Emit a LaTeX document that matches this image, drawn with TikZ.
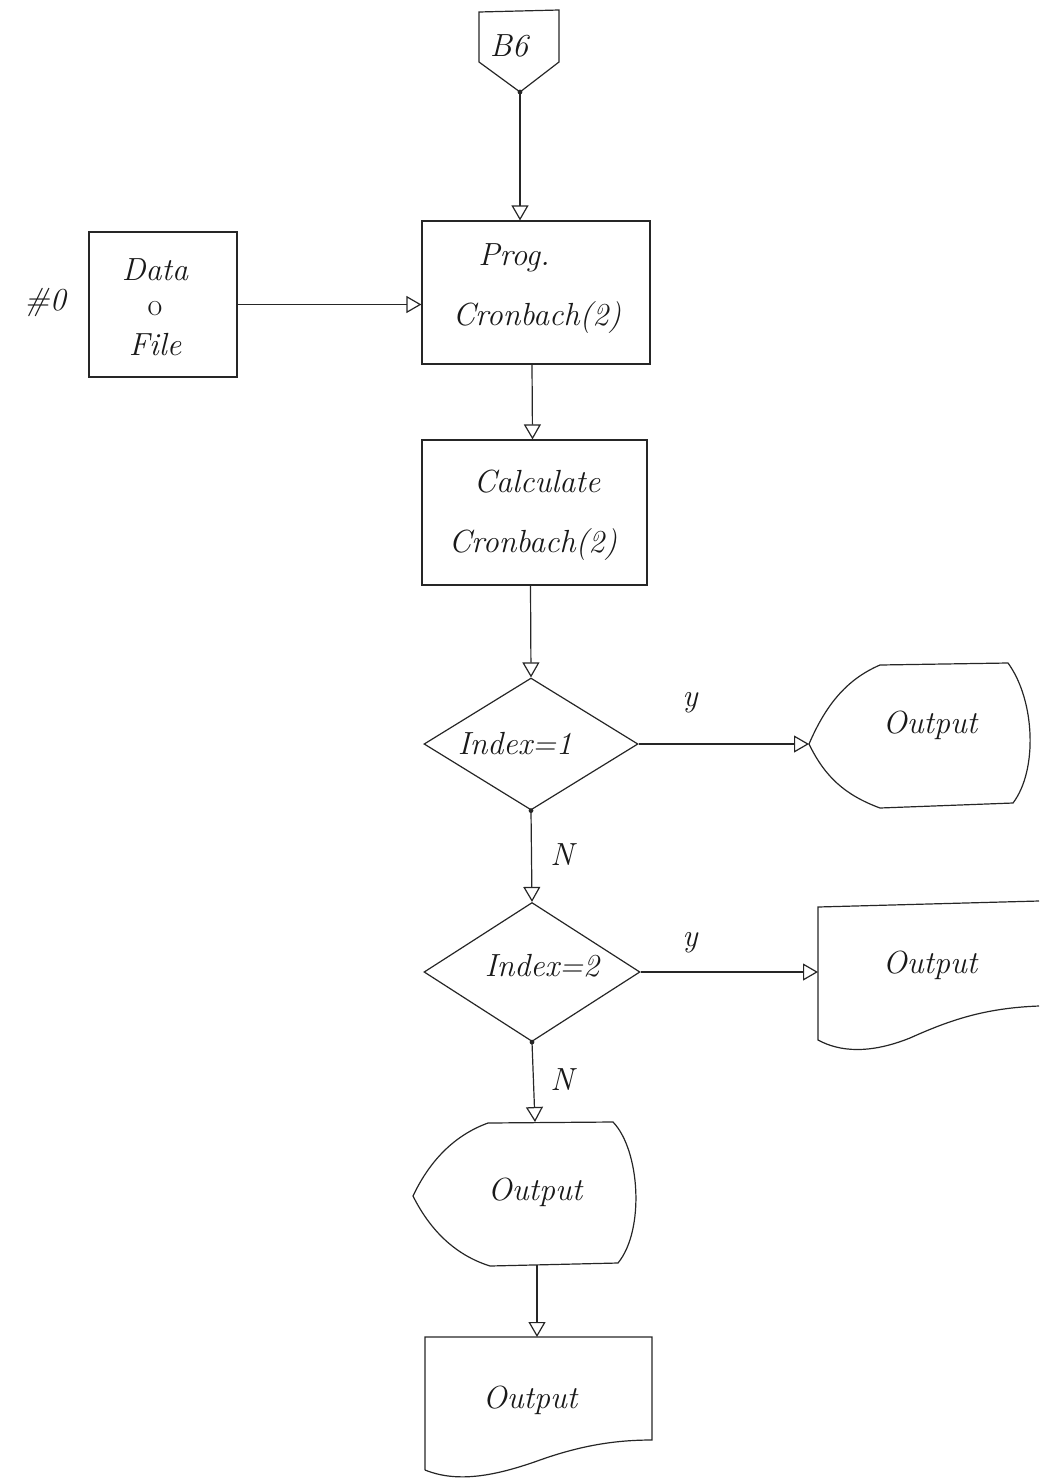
\documentclass[tikz,border=0pt]{standalone}
\usetikzlibrary{arrows.meta,shapes.geometric}

\begin{document}
\begin{tikzpicture}[x=0.5pt,y=-0.5pt,line width=0.6pt,
  ink/.style={draw=black!85},
  box/.style={ink,rectangle,inner sep=0pt},
  decision/.style={ink,diamond,inner sep=0pt},
  lbl/.style={font=\fontsize{16}{19}\selectfont\itshape,text=black!90},
  flow/.style={draw=black!85,-{Triangle[open,length=7.5pt,width=8.5pt]}},
  joint/.style={circle,fill=black!85,inner sep=0pt,minimum size=2.4pt}]

\useasboundingbox (0,0) rectangle (1039,1478);

% ---- off-page connector B6
\draw[ink] (479,12) -- (559,10) -- (559,62) -- (520,92) -- (479,62) -- cycle;
\coordinate (b6tip) at (520,92);
\node[lbl] (b6) at (509,46) {B6};
\node[joint] at (b6tip) {};

% ---- data file and program boxes
\node[box,minimum width=74pt,minimum height=72.5pt] (data) at (163,304.5) {};
\node[lbl] (datat1) at (155,270) {Data};
\node[lbl,font=\fontsize{16}{19}\selectfont\upshape] (datat2) at (155,309) {o};
\node[lbl] (datat3) at (155,345) {File};
\node[lbl] (fileno) at (45,302) {\#0};

\node[box,minimum width=114pt,minimum height=71.5pt] (prog) at (536,292.5) {};
\node[lbl] (progt1) at (514,258) {Prog.};
\node[lbl] (progt2) at (537,318) {Cronbach(2)};

\node[box,minimum width=112.5pt,minimum height=72.5pt] (calc) at (534.5,512.5) {};
\node[lbl] (calct1) at (537,482) {Calculate};
\node[lbl] (calct2) at (533,545) {Cronbach(2)};

% ---- decisions
\node[decision,minimum width=107pt,minimum height=66pt] (d1) at (531,744) {};
\node[lbl] (d1t) at (515,744) {Index=1};
\node[decision,minimum width=108pt,minimum height=69.5pt] (d2) at (532,972) {};
\node[lbl] (d2t) at (542,966) {Index=2};
\node[joint] at (d1.south) {};
\node[joint] at (d2.south) {};

% ---- display output (right of first decision)
\draw[ink] (809,744) .. controls (825,707) and (845,680) .. (880,665)
  -- (1008,663) .. controls (1035,700) and (1038,770) .. (1013,803)
  -- (880,808) .. controls (845,795) and (825,777) .. (809,744) -- cycle;
\coordinate (out1in) at (809,744);
\node[lbl] (out1) at (930,725) {Output};

% ---- document output (right of second decision)
\draw[ink] (1039,901) -- (818,907) -- (818,1040)
  .. controls (840,1052) and (870,1054) .. (910,1038)
  .. controls (950,1020) and (985,1008) .. (1039,1006);
\coordinate (doc2in) at (818,972);
\node[lbl] (out2) at (930,965) {Output};

% ---- display output below
\draw[ink] (413,1196) .. controls (430,1160) and (455,1135) .. (488,1123)
  -- (613,1122) .. controls (640,1150) and (645,1230) .. (618,1263)
  -- (490,1266) .. controls (455,1255) and (430,1230) .. (413,1196) -- cycle;
\coordinate (out3top) at (535,1122);
\coordinate (out3bot) at (537,1265);
\node[lbl] (out3) at (535,1192) {Output};

% ---- final document output
\draw[ink] (425,1470) -- (425,1337) -- (652,1337) -- (652,1440)
  .. controls (620,1440) and (585,1444) .. (540,1460)
  .. controls (490,1478) and (455,1482) .. (425,1470);
\coordinate (doc4top) at (537,1337);
\node[lbl] (out4) at (530,1400) {Output};

% ---- connectors
\draw[flow] (b6tip) -- (b6tip |- prog.north);
\draw[flow] (data.east) -- (data.east -| prog.west);
\draw[flow] ([xshift=-2pt]prog.south) -- ([xshift=-1pt]calc.north);
\draw[flow] ([xshift=-2pt]calc.south) -- (d1.north);
\draw[flow] (d1.south) -- (d2.north);
\draw[flow] (d2.south) -- (out3top);
\draw[flow] (out3bot) -- (doc4top);
\draw[flow] (d1.east) -- (out1in);
\draw[flow] (d2.east) -- (doc2in);

% ---- branch labels
\node[lbl] (y1) at (690,703) {y};
\node[lbl] (y2) at (690,943) {y};
\node[lbl] (n1) at (562,855) {N};
\node[lbl] (n2) at (562,1080) {N};
\end{tikzpicture}
\end{document}
